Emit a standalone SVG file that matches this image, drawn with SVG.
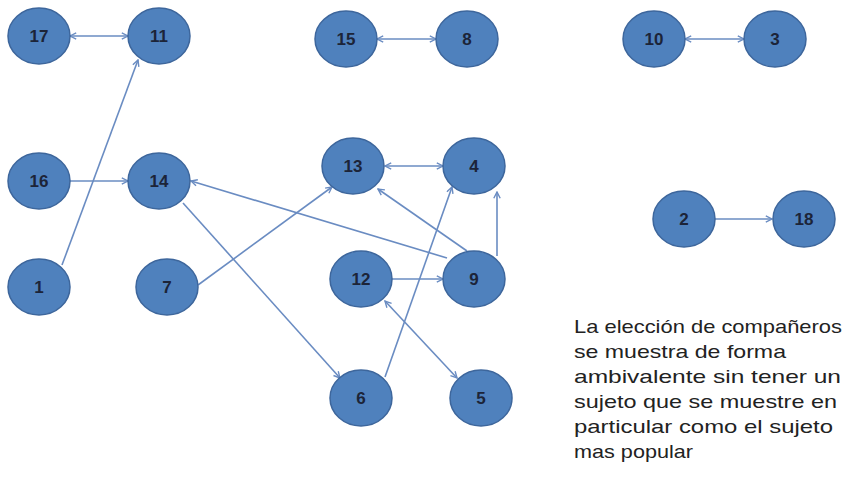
<svg xmlns="http://www.w3.org/2000/svg" width="843" height="485" viewBox="0 0 843 485">
<style>
.n ellipse{fill:#4f81bd;stroke:#3d669c;stroke-width:1.5}
.n text{font-family:"Liberation Sans",Arial,sans-serif;font-size:17px;font-weight:bold;fill:#1c2438;text-anchor:middle}
#edges line{stroke:#6a8cc2;stroke-width:1.6;fill:none;marker-end:url(#a)}
#edges line.b{marker-start:url(#a)}
.note{font-family:"Liberation Sans",Arial,sans-serif;font-size:19px;fill:#222}
</style>
<defs>
<marker id="a" viewBox="0 0 8 8" refX="7.2" refY="4" markerWidth="8" markerHeight="8" markerUnits="userSpaceOnUse" orient="auto-start-reverse">
<path d="M1,0.8 L7.2,4 L1,7.2" fill="none" stroke="#6a8cc2" stroke-width="1.4"/>
</marker>
</defs>
<rect width="843" height="485" fill="#fff"/>
<g id="edges">
<line class="b" x1="70" y1="36" x2="128" y2="36"/>
<line class="b" x1="377" y1="39" x2="436" y2="39"/>
<line class="b" x1="685" y1="39" x2="744" y2="39"/>
<line x1="62" y1="265" x2="138" y2="60"/>
<line x1="70" y1="181" x2="128" y2="181"/>
<line x1="183" y1="203" x2="340" y2="378"/>
<line x1="198" y1="285" x2="332" y2="187"/>
<line x1="447" y1="258" x2="191" y2="181"/>
<line x1="467" y1="251" x2="378" y2="189"/>
<line x1="497" y1="256" x2="497" y2="192"/>
<line class="b" x1="385" y1="166" x2="443" y2="166"/>
<line x1="392" y1="279" x2="443" y2="279"/>
<line x1="385" y1="377" x2="452" y2="187"/>
<line class="b" x1="385" y1="301" x2="457" y2="378"/>
<line x1="715" y1="219" x2="772" y2="219"/>
</g>
<g id="n17" class="n"><ellipse cx="39" cy="36" rx="31" ry="28"/><text x="39" y="42">17</text></g>
<g id="n11" class="n"><ellipse cx="159" cy="36" rx="31" ry="28"/><text x="159" y="42">11</text></g>
<g id="n16" class="n"><ellipse cx="39" cy="181" rx="31" ry="28"/><text x="39" y="187">16</text></g>
<g id="n14" class="n"><ellipse cx="159" cy="181" rx="31" ry="28"/><text x="159" y="187">14</text></g>
<g id="n1" class="n"><ellipse cx="39" cy="287" rx="31" ry="28"/><text x="39" y="293">1</text></g>
<g id="n7" class="n"><ellipse cx="167" cy="287" rx="31" ry="28"/><text x="167" y="293">7</text></g>
<g id="n15" class="n"><ellipse cx="346" cy="39" rx="31" ry="28"/><text x="346" y="45">15</text></g>
<g id="n8" class="n"><ellipse cx="467" cy="39" rx="31" ry="28"/><text x="467" y="45">8</text></g>
<g id="n10" class="n"><ellipse cx="654" cy="39" rx="31" ry="28"/><text x="654" y="45">10</text></g>
<g id="n3" class="n"><ellipse cx="775" cy="39" rx="31" ry="28"/><text x="775" y="45">3</text></g>
<g id="n13" class="n"><ellipse cx="353" cy="166" rx="31" ry="28"/><text x="353" y="172">13</text></g>
<g id="n4" class="n"><ellipse cx="474" cy="166" rx="31" ry="28"/><text x="474" y="172">4</text></g>
<g id="n12" class="n"><ellipse cx="361" cy="279" rx="31" ry="28"/><text x="361" y="285">12</text></g>
<g id="n9" class="n"><ellipse cx="474" cy="279" rx="31" ry="28"/><text x="474" y="285">9</text></g>
<g id="n6" class="n"><ellipse cx="361" cy="398" rx="31" ry="28"/><text x="361" y="404">6</text></g>
<g id="n5" class="n"><ellipse cx="481" cy="398" rx="31" ry="28"/><text x="481" y="404">5</text></g>
<g id="n2" class="n"><ellipse cx="684" cy="219" rx="31" ry="28"/><text x="684" y="225">2</text></g>
<g id="n18" class="n"><ellipse cx="804" cy="219" rx="31" ry="28"/><text x="804" y="225">18</text></g>
<g id="note">
<text class="note" x="574" y="333" textLength="268" lengthAdjust="spacingAndGlyphs">La elección de compañeros</text>
<text class="note" x="574" y="358" textLength="212" lengthAdjust="spacingAndGlyphs">se muestra de forma</text>
<text class="note" x="574" y="383" textLength="267" lengthAdjust="spacingAndGlyphs">ambivalente sin tener un</text>
<text class="note" x="574" y="408" textLength="263" lengthAdjust="spacingAndGlyphs">sujeto que se muestre en</text>
<text class="note" x="574" y="433" textLength="259" lengthAdjust="spacingAndGlyphs">particular como el sujeto</text>
<text class="note" x="574" y="458" textLength="119" lengthAdjust="spacingAndGlyphs">mas popular</text>
</g>
</svg>
